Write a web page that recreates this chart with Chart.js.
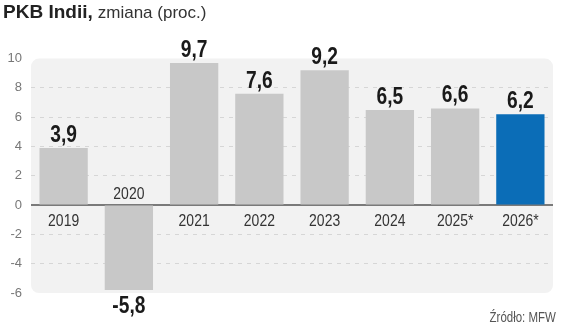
<!DOCTYPE html>
<html lang="pl">
<head>
<meta charset="utf-8">
<script src="https://cdn.jsdelivr.net/npm/chart.js@4/dist/chart.umd.min.js"></script>
<style>
  html, body { margin: 0; padding: 0; background: #fff; }
  #wrap { position: relative; width: 564px; height: 334px; }
  #title { position: absolute; left: 3px; top: 1px; font-family: "Liberation Sans", Arial, sans-serif; font-size: 18px; color: #222; white-space: nowrap; }
  #title b { font-weight: bold; font-size: 19px; }
  #title span { font-size: 17px; color: #333; }
  #src { position: absolute; right: 8px; top: 309px; font-family: "Liberation Sans", Arial, sans-serif; font-size: 14px; color: #555; transform: scaleX(0.82); transform-origin: right center; white-space: nowrap; }
  canvas { position: absolute; left: 0; top: 0; }
</style>
</head>
<body>
<div id="wrap">
  <canvas id="gdp" width="564" height="334"></canvas>
  <div id="title"><b>PKB Indii,</b> <span>zmiana (proc.)</span></div>
  <div id="src">Źródło: MFW</div>
</div>
<script>
const years = ['2019', '2020', '2021', '2022', '2023', '2024', '2025*', '2026*'];
const growth = [3.9, -5.8, 9.7, 7.6, 9.2, 6.5, 6.6, 6.2];
const barColors = ['#c8c8c8', '#c8c8c8', '#c8c8c8', '#c8c8c8', '#c8c8c8', '#c8c8c8', '#c8c8c8', '#0b6db7'];

const sans = '"Liberation Sans", Arial, sans-serif';
const fmt = v => v.toFixed(1).replace('.', ',');

// squeezed text, mimics a narrow face
function narrowText(ctx, txt, x, y, squeeze) {
  ctx.save();
  ctx.translate(x, y);
  ctx.scale(squeeze, 1);
  ctx.fillText(txt, 0, 0);
  ctx.restore();
}

// light panel behind the plot plus the solid zero line
const panel = {
  id: 'panel',
  beforeDraw(chart) {
    const { ctx, chartArea: a } = chart;
    ctx.save();
    ctx.fillStyle = '#f2f2f2';
    ctx.beginPath();
    ctx.roundRect(a.left, a.top, a.right - a.left, a.bottom - a.top, 8);
    ctx.fill();
    ctx.restore();
  },
  beforeDatasetsDraw(chart) {
    const { ctx, chartArea: a, scales } = chart;
    const y0 = scales.y.getPixelForValue(0);
    ctx.save();
    ctx.strokeStyle = '#7a7a7a';
    ctx.lineWidth = 2;
    ctx.beginPath();
    ctx.moveTo(a.left, y0);
    ctx.lineTo(a.right, y0);
    ctx.stroke();
    ctx.restore();
  }
};

// value on the outer end of each bar, year on the other side of zero
const barLabels = {
  id: 'barLabels',
  afterDatasetsDraw(chart) {
    const { ctx, scales } = chart;
    const y0 = scales.y.getPixelForValue(0);
    const meta = chart.getDatasetMeta(0);
    ctx.save();
    ctx.textAlign = 'center';
    ctx.textBaseline = 'alphabetic';
    meta.data.forEach((bar, i) => {
      const v = growth[i];
      ctx.font = 'bold 24px ' + sans;
      ctx.fillStyle = '#1a1a1a';
      narrowText(ctx, fmt(v), bar.x, v >= 0 ? bar.y - 6 : bar.y + 23, 0.8);
      ctx.font = '17px ' + sans;
      ctx.fillStyle = '#333';
      narrowText(ctx, years[i], bar.x, v >= 0 ? y0 + 21 : y0 - 6, 0.82);
    });
    ctx.restore();
  }
};

new Chart(document.getElementById('gdp'), {
  type: 'bar',
  data: {
    labels: years,
    datasets: [{
      data: growth,
      backgroundColor: barColors,
      borderWidth: 0,
      barPercentage: 0.74,
      categoryPercentage: 1
    }]
  },
  options: {
    responsive: false,
    animation: false,
    layout: { padding: { top: 58.6, right: 11, bottom: 41, left: 0 } },
    plugins: { legend: { display: false }, tooltip: { enabled: false } },
    scales: {
      x: { display: false },
      y: {
        min: -6,
        max: 10,
        afterFit: s => { s.width = 31; },
        ticks: {
          stepSize: 2,
          padding: 9,
          color: '#777',
          font: { family: sans, size: 13 }
        },
        grid: {
          drawTicks: false,
          color: c => (c.tick && (c.tick.value === 0 || c.tick.value === 10 || c.tick.value === -6)) ? 'rgba(0,0,0,0)' : '#d6d6d6',
          lineWidth: 1
        },
        border: { display: false, dash: [4, 5] }
      }
    }
  },
  plugins: [panel, barLabels]
});
</script>
</body>
</html>
